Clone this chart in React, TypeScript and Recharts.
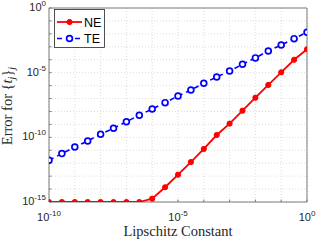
import React from "react";
import {
  ComposedChart,
  Line,
  XAxis,
  YAxis,
  CartesianGrid,
  ReferenceArea,
} from "recharts";

// Lipschitz constants (x), 10^-10 .. 10^0 in half-decade steps
const LIPSCHITZ = [
  1e-10, 3.162e-10, 1e-9, 3.162e-9, 1e-8, 3.162e-8, 1e-7, 3.162e-7, 1e-6,
  3.162e-6, 1e-5, 3.162e-5, 1e-4, 3.162e-4, 1e-3, 3.162e-3, 1e-2, 3.162e-2,
  1e-1, 3.162e-1, 1,
];

// NE error series (red)
const NE_ERROR = [
  1.0e-15, 1.0e-15, 1.0e-15, 1.0e-15, 1.0e-15, 1.0e-15, 1.0e-15, 1.0e-15,
  1.82e-15, 1.38e-14, 1.29e-13, 1.23e-12, 1.26e-11, 1.51e-10, 1.15e-9,
  1.15e-8, 1.17e-7, 1.12e-6, 1.07e-5, 1.0e-4, 6.46e-4,
];

// TE error series (blue)
const TE_ERROR = [
  1.7e-12, 5.5e-12, 1.78e-11, 5.25e-11, 1.74e-10, 5.01e-10, 1.62e-9, 5.13e-9,
  1.55e-8, 4.79e-8, 1.58e-7, 4.57e-7, 1.51e-6, 4.68e-6, 1.35e-5, 4.47e-5,
  1.38e-4, 4.79e-4, 1.38e-3, 4.27e-3, 1.32e-2,
];

const X_TICKS = [1e-10, 1e-9, 1e-8, 1e-7, 1e-6, 1e-5, 1e-4, 1e-3, 1e-2, 1e-1, 1];
const Y_TICKS = [
  1e-15, 1e-14, 1e-13, 1e-12, 1e-11, 1e-10, 1e-9, 1e-8, 1e-7, 1e-6, 1e-5,
  1e-4, 1e-3, 1e-2, 1e-1, 1,
];
const LABELED_EXPONENTS = [-15, -10, -5, 0];

const SERIES_NAMES = ["NE", "TE"];
const X_LABEL = "Lipschitz Constant";

const data = LIPSCHITZ.map((x, i) => ({ x, ne: NE_ERROR[i], te: TE_ERROR[i] }));

const TICK_FONT = "'Liberation Sans', Arial, sans-serif";
const SERIF = "'Liberation Serif', 'Times New Roman', serif";
const TEXT_COLOR = "#262626";
const AXIS_COLOR = "#7a7a7a";

const XTick = (props: any) => {
  const { x, payload } = props;
  const e = Math.round(Math.log10(payload.value));
  if (!LABELED_EXPONENTS.includes(e)) return null;
  return (
    <text x={x} y={221} textAnchor="middle" fontFamily={TICK_FONT} fontSize={11} fill={TEXT_COLOR}>
      <tspan>10</tspan>
      <tspan dy={-5} fontSize={8}>{e}</tspan>
    </text>
  );
};

const YTick = (props: any) => {
  const { payload, y } = props;
  const e = Math.round(Math.log10(payload.value));
  if (!LABELED_EXPONENTS.includes(e)) return null;
  return (
    <text x={46} y={y + 3} textAnchor="end" fontFamily={TICK_FONT} fontSize={11} fill={TEXT_COLOR}>
      <tspan>10</tspan>
      <tspan dy={-5} fontSize={8}>{e}</tspan>
    </text>
  );
};

const NoTick = () => null;

const YLabel = () => (
  <text
    transform="translate(12,106) rotate(-90)"
    textAnchor="middle"
    fontFamily={SERIF}
    fontSize={14.5}
    fill={TEXT_COLOR}
  >
    <tspan>Error for {"{"}</tspan>
    <tspan fontStyle="italic">t</tspan>
    <tspan fontStyle="italic" fontSize={10} dy={3}>j</tspan>
    <tspan dy={-3}>{"}"}</tspan>
    <tspan fontStyle="italic" fontSize={10} dy={3}>j</tspan>
  </text>
);

const XLabel = () => (
  <text x={178} y={236} textAnchor="middle" fontFamily={SERIF} fontSize={14.5} fill={TEXT_COLOR}>
    {X_LABEL}
  </text>
);

const LegendBox = () => (
  <svg width={52} height={40} style={{ display: "block" }}>
    <rect x={0.5} y={0.5} width={50} height={38} fill="#fff" stroke={TEXT_COLOR} strokeWidth={0.8} />
    <line x1={3} y1={13} x2={28} y2={13} stroke="#ff0000" strokeWidth={1.8} />
    <circle cx={15.5} cy={13} r={2.6} fill="#ff0000" stroke="#ff0000" />
    <text x={30} y={17.5} fontFamily={TICK_FONT} fontSize={12.5} fill="#000">
      {SERIES_NAMES[0]}
    </text>
    <line x1={3} y1={29.5} x2={28} y2={29.5} stroke="#0000ff" strokeWidth={1.6} strokeDasharray="5 4" />
    <circle cx={15.5} cy={29.5} r={2.9} fill="#fff" stroke="#0000ff" strokeWidth={1.7} />
    <text x={30} y={34} fontFamily={TICK_FONT} fontSize={12.5} fill="#000">
      {SERIES_NAMES[1]}
    </text>
  </svg>
);

export default function App() {
  return (
    <div style={{ position: "absolute", left: 0, top: 0, width: 316, height: 241, background: "#fff" }}>
      <ComposedChart
        width={316}
        height={241}
        data={data}
        margin={{ top: 8, right: 9, left: 0, bottom: 0 }}
      >
        <CartesianGrid stroke="#d4d4d4" strokeDasharray="1 2" strokeWidth={0.8} />
        <XAxis
          dataKey="x"
          type="number"
          scale="log"
          domain={[1e-10, 1]}
          ticks={X_TICKS}
          allowDataOverflow
          height={39}
          axisLine={false}
          tickLine={{ stroke: AXIS_COLOR }}
          tickSize={-2.5}
          tick={<XTick />}
          interval={0}
          label={{ content: () => <XLabel /> }}
        />
        <XAxis
          xAxisId="top"
          orientation="top"
          type="number"
          scale="log"
          domain={[1e-10, 1]}
          ticks={X_TICKS}
          allowDataOverflow
          height={0}
          axisLine={false}
          tickLine={{ stroke: AXIS_COLOR }}
          tickSize={-2.5}
          tick={<NoTick />}
          interval={0}
        />
        <YAxis
          type="number"
          scale="log"
          domain={[1e-15, 1]}
          ticks={Y_TICKS}
          allowDataOverflow
          width={49}
          axisLine={false}
          tickLine={{ stroke: AXIS_COLOR }}
          tickSize={-2.5}
          tick={<YTick />}
          interval={0}
          label={{ content: () => <YLabel /> }}
        />
        <YAxis
          yAxisId="right"
          orientation="right"
          type="number"
          scale="log"
          domain={[1e-15, 1]}
          ticks={Y_TICKS}
          allowDataOverflow
          width={0}
          axisLine={false}
          tickLine={{ stroke: AXIS_COLOR }}
          tickSize={-2.5}
          tick={<NoTick />}
          interval={0}
        />
        <ReferenceArea
          x1={1e-10}
          x2={1}
          y1={1e-15}
          y2={1}
          fill="none"
          fillOpacity={0}
          stroke={AXIS_COLOR}
          strokeWidth={1}
          ifOverflow="visible"
        />
        <Line
          dataKey="ne"
          name={SERIES_NAMES[0]}
          stroke="#ff0000"
          strokeWidth={1.8}
          dot={{ r: 2.6, fill: "#ff0000", stroke: "#ff0000", strokeWidth: 1 }}
          isAnimationActive={false}
        />
        <Line
          dataKey="te"
          name={SERIES_NAMES[1]}
          stroke="#0000ff"
          strokeWidth={1.6}
          strokeDasharray="5 4"
          dot={{ r: 2.9, fill: "#fff", stroke: "#0000ff", strokeWidth: 1.7, strokeDasharray: "" }}
          isAnimationActive={false}
        />
      </ComposedChart>
      <div style={{ position: "absolute", left: 54, top: 9 }}>
        <LegendBox />
      </div>
    </div>
  );
}
